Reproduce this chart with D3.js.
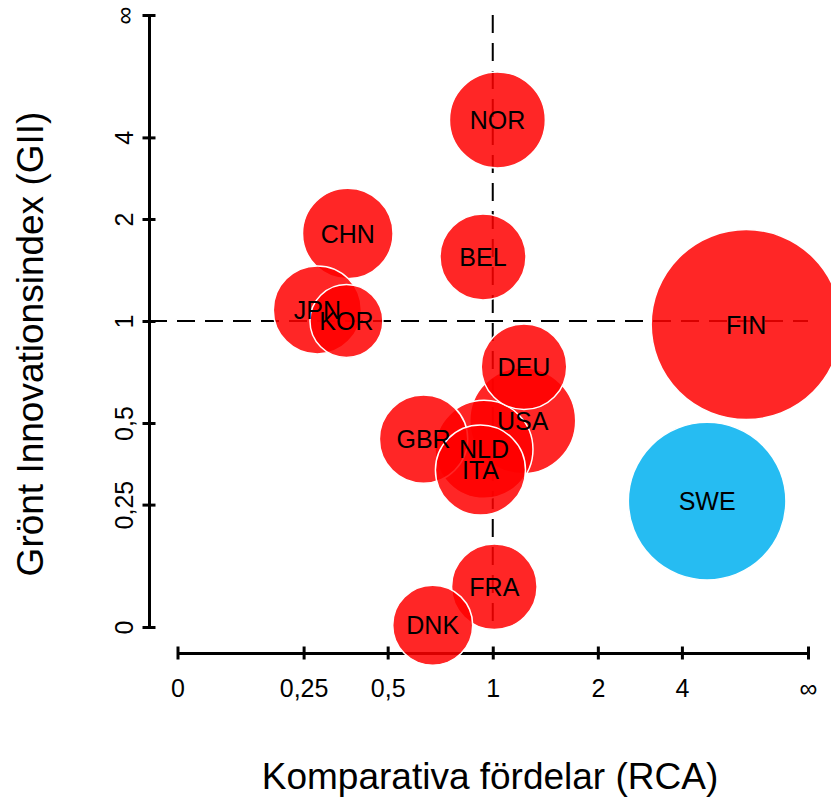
<!DOCTYPE html>
<html>
<head>
<meta charset="utf-8">
<script src="https://cdn.jsdelivr.net/npm/d3@7"></script>
<style>
  html, body { margin: 0; padding: 0; background: #fff; }
  svg { display: block; font-family: "Liberation Sans", Arial, sans-serif; }
</style>
</head>
<body>
<svg id="chart" width="831" height="804"></svg>
<script>
// ---- data ----
const countries = ["CHN","JPN","KOR","NOR","BEL","FIN","SWE","USA","NLD","GBR","ITA","DEU","FRA","DNK"];
const rca       = [0.37, 0.285, 0.366, 1.03, 0.94, 9.2, 5.25, 1.21, 0.946, 0.64, 0.925, 1.22, 1.01, 0.68];
const gii       = [1.80, 1.075, 1.00, 4.83, 1.53, 0.977, 0.259, 0.5085, 0.409, 0.443, 0.345, 0.74, 0.0705, 0.003];
const sizes     = [20.5, 19.4, 13.3, 23.0, 18.5, 90.3, 62.1, 28.1, 24.0, 19.5, 20.3, 18.3, 18.3, 16.0];
const highlighted = ["SWE"];
const tickValues = [0, 0.25, 0.5, 1, 2, 4, Infinity];
const tickLabels = ["0", "0,25", "0,5", "1", "2", "4", "\u221E"];
const xTitle = "Komparativa fördelar (RCA)";
const yTitle = "Grönt Innovationsindex (GII)";

// ---- scales ----
const tf = v => v === Infinity ? 1 : v / (1 + v);
const x = d3.scaleLinear().domain([0, 1]).range([177.5, 808]);
const y = d3.scaleLinear().domain([0, 1]).range([627, 15]);
const r = d3.scaleSqrt().domain([0, 100]).range([0, 100]);

const svg = d3.select("#chart");
const yAxisX = 149, xAxisY = 653;

// ---- reference dashed lines ----
svg.append("line")
  .attr("x1", yAxisX).attr("x2", x(tf(Infinity)))
  .attr("y1", y(tf(1))).attr("y2", y(tf(1)))
  .attr("stroke", "#000").attr("stroke-width", 2).attr("stroke-dasharray", "18,10");
svg.append("line")
  .attr("x1", x(tf(1))).attr("x2", x(tf(1)))
  .attr("y1", y(tf(Infinity))).attr("y2", y(tf(0)))
  .attr("stroke", "#000").attr("stroke-width", 2).attr("stroke-dasharray", "18,10");

// ---- axes ----
const xAxis = d3.axisBottom(x)
  .tickValues(tickValues.map(tf))
  .tickFormat((d, i) => tickLabels[i])
  .tickSizeOuter(0).tickSizeInner(6.5);
const gx = svg.append("g").attr("transform", `translate(0,${xAxisY})`).call(xAxis);
gx.attr("font-family", null).attr("font-size", null);
gx.select(".domain").attr("stroke", "#000").attr("stroke-width", 3);
gx.selectAll(".tick line").attr("y1", -6.5).attr("y2", 6.5).attr("stroke", "#000").attr("stroke-width", 3);
gx.selectAll(".tick text").attr("y", 44).attr("dy", 0)
  .attr("font-size", 25).attr("fill", "#000");

const yAxis = d3.axisLeft(y)
  .tickValues(tickValues.map(tf))
  .tickFormat((d, i) => tickLabels[i])
  .tickSizeOuter(0).tickSizeInner(6.5);
const gy = svg.append("g").attr("transform", `translate(${yAxisX},0)`).call(yAxis);
gy.attr("font-family", null).attr("font-size", null);
gy.select(".domain").attr("stroke", "#000").attr("stroke-width", 3);
gy.selectAll(".tick line").attr("x1", -6.5).attr("x2", 6.5).attr("stroke", "#000").attr("stroke-width", 3);
gy.selectAll(".tick text")
  .attr("x", 0).attr("y", -16).attr("dy", 0)
  .attr("transform", "rotate(-90)")
  .attr("text-anchor", "middle")
  .attr("font-size", 25).attr("fill", "#000");

// ---- bubbles ----
const data = countries.map((c, i) => ({ c, rx: rca[i], gy: gii[i], s: sizes[i] }));
const bubbles = svg.append("g");
bubbles.selectAll("circle").data(data).join("circle")
  .attr("cx", d => x(tf(d.rx)))
  .attr("cy", d => y(tf(d.gy)))
  .attr("r", d => r(d.s))
  .attr("fill", d => highlighted.includes(d.c) ? "#00B0F0" : "#FF0000")
  .attr("fill-opacity", 0.85)
  .attr("stroke", "#fff").attr("stroke-width", 1.5);

bubbles.selectAll("text").data(data).join("text")
  .attr("x", d => x(tf(d.rx)))
  .attr("y", d => y(tf(d.gy)))
  .attr("dy", "0.36em")
  .attr("text-anchor", "middle")
  .attr("font-size", 25)
  .attr("fill", "#000")
  .text(d => d.c);

// ---- titles ----
svg.append("text")
  .attr("x", 490).attr("y", 789)
  .attr("text-anchor", "middle")
  .attr("font-size", 37).attr("fill", "#000")
  .text(xTitle);
svg.append("text")
  .attr("transform", "translate(43,344) rotate(-90)")
  .attr("text-anchor", "middle")
  .attr("font-size", 37).attr("fill", "#000")
  .text(yTitle);
</script>
</body>
</html>
